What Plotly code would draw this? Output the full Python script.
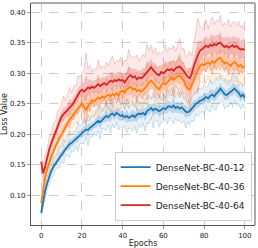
import plotly.graph_objects as go

epochs = list(range(101))

blue_mean = [0.071,0.092,0.108,0.120,0.131,0.140,0.147,0.152,0.158,0.163,
0.168,0.172,0.176,0.180,0.184,0.186,0.189,0.192,0.196,0.199,
0.201,0.205,0.208,0.207,0.211,0.213,0.216,0.219,0.222,0.220,
0.224,0.227,0.230,0.228,0.232,0.234,0.231,0.235,0.233,0.230,
0.231,0.228,0.230,0.227,0.229,0.231,0.228,0.232,0.234,0.233,
0.235,0.232,0.238,0.241,0.243,0.239,0.242,0.240,0.238,0.240,
0.243,0.241,0.245,0.246,0.244,0.247,0.243,0.245,0.242,0.244,
0.240,0.237,0.236,0.238,0.242,0.246,0.250,0.252,0.255,0.256,
0.258,0.261,0.259,0.263,0.265,0.262,0.267,0.270,0.275,0.271,
0.266,0.264,0.267,0.270,0.273,0.275,0.271,0.268,0.262,0.265,0.260]

orange_mean = [0.087,0.110,0.130,0.143,0.155,0.163,0.172,0.180,0.187,0.194,
0.199,0.206,0.212,0.218,0.224,0.229,0.233,0.238,0.242,0.246,
0.251,0.245,0.240,0.246,0.252,0.256,0.254,0.257,0.260,0.258,
0.262,0.260,0.263,0.265,0.262,0.266,0.264,0.267,0.263,0.270,
0.272,0.268,0.274,0.276,0.278,0.273,0.275,0.271,0.273,0.270,
0.272,0.276,0.281,0.285,0.288,0.283,0.280,0.276,0.274,0.280,
0.284,0.282,0.286,0.290,0.293,0.289,0.292,0.295,0.296,0.292,
0.288,0.280,0.275,0.273,0.282,0.292,0.298,0.305,0.312,0.315,
0.313,0.316,0.318,0.315,0.320,0.317,0.321,0.324,0.325,0.320,
0.316,0.318,0.315,0.312,0.316,0.319,0.315,0.311,0.314,0.309,0.311]

red_mean = [0.155,0.136,0.148,0.163,0.176,0.186,0.195,0.203,0.212,0.222,
0.229,0.233,0.236,0.240,0.244,0.247,0.252,0.258,0.264,0.270,
0.273,0.270,0.273,0.277,0.275,0.278,0.276,0.279,0.282,0.279,
0.281,0.284,0.281,0.285,0.288,0.286,0.289,0.287,0.290,0.288,
0.289,0.285,0.290,0.295,0.297,0.293,0.295,0.290,0.293,0.292,
0.294,0.298,0.302,0.306,0.310,0.305,0.301,0.298,0.297,0.302,
0.300,0.303,0.306,0.305,0.307,0.304,0.308,0.310,0.311,0.308,
0.303,0.297,0.294,0.292,0.300,0.312,0.322,0.330,0.337,0.340,
0.342,0.345,0.343,0.347,0.345,0.348,0.346,0.349,0.350,0.346,
0.343,0.345,0.342,0.344,0.346,0.343,0.345,0.341,0.339,0.340,0.338]

blue_spread = [0.006,0.010,0.012,0.009,0.014,0.011,0.016,0.010,0.013,0.018,
0.012,0.020,0.011,0.015,0.022,0.013,0.017,0.012,0.024,0.014,
0.016,0.021,0.012,0.026,0.015,0.018,0.013,0.022,0.016,0.028,
0.014,0.019,0.024,0.013,0.030,0.017,0.021,0.015,0.026,0.018,
0.022,0.014,0.028,0.016,0.020,0.025,0.015,0.031,0.018,0.022,
0.016,0.027,0.019,0.024,0.014,0.029,0.020,0.017,0.026,0.019,
0.023,0.016,0.028,0.018,0.021,0.030,0.017,0.024,0.019,0.026,
0.018,0.027,0.015,0.022,0.019,0.025,0.016,0.023,0.020,0.018,
0.024,0.015,0.021,0.027,0.017,0.022,0.026,0.018,0.023,0.016,
0.025,0.019,0.022,0.017,0.028,0.020,0.024,0.018,0.021,0.016,0.019]

orange_spread = [0.008,0.012,0.015,0.011,0.017,0.013,0.019,0.014,0.021,0.016,
0.018,0.024,0.015,0.020,0.027,0.017,0.022,0.016,0.025,0.019,
0.021,0.028,0.018,0.024,0.030,0.019,0.026,0.020,0.032,0.022,
0.025,0.018,0.029,0.021,0.026,0.033,0.020,0.027,0.022,0.030,
0.019,0.028,0.024,0.034,0.021,0.027,0.023,0.031,0.020,0.026,
0.029,0.022,0.035,0.024,0.028,0.021,0.032,0.025,0.030,0.023,
0.027,0.034,0.022,0.029,0.025,0.033,0.021,0.028,0.036,0.024,
0.030,0.023,0.027,0.035,0.022,0.029,0.026,0.038,0.024,0.031,
0.027,0.034,0.023,0.030,0.037,0.025,0.032,0.028,0.035,0.024,
0.031,0.027,0.036,0.025,0.030,0.033,0.026,0.034,0.028,0.031,0.026]

red_spread = [0.010,0.014,0.018,0.013,0.020,0.016,0.024,0.018,0.026,0.020,
0.022,0.030,0.019,0.025,0.033,0.021,0.028,0.020,0.031,0.024,
0.027,0.035,0.060,0.030,0.038,0.024,0.032,0.026,0.040,0.028,
0.031,0.024,0.037,0.027,0.034,0.042,0.026,0.035,0.029,0.038,
0.025,0.036,0.031,0.044,0.028,0.035,0.030,0.040,0.027,0.033,
0.037,0.029,0.045,0.031,0.036,0.028,0.041,0.032,0.038,0.030,
0.035,0.043,0.029,0.037,0.032,0.042,0.028,0.036,0.046,0.031,
0.038,0.030,0.035,0.044,0.029,0.037,0.050,0.060,0.040,0.034,
0.035,0.043,0.030,0.038,0.047,0.032,0.041,0.036,0.045,0.031,
0.040,0.034,0.046,0.032,0.038,0.042,0.033,0.044,0.036,0.039,0.033]

series = [
    ("DenseNet-BC-40-12", blue_mean, blue_spread, "#1f77b4", "31,119,180"),
    ("DenseNet-BC-40-36", orange_mean, orange_spread, "#ff7f0e", "255,127,14"),
    ("DenseNet-BC-40-64", red_mean, red_spread, "#d62728", "214,39,40"),
]

fig = go.Figure()
for name, m, s, col, rgb in series:
    hi = [a + b for a, b in zip(m, s)]
    lo = [a - b for a, b in zip(m, s)]
    hi2 = [a + 0.4 * b for a, b in zip(m, s)]
    lo2 = [a - 0.4 * b for a, b in zip(m, s)]
    fig.add_trace(go.Scatter(x=epochs, y=hi, mode="lines", line=dict(width=0.7, color=f"rgba({rgb},0.3)"),
                             showlegend=False, hoverinfo="skip"))
    fig.add_trace(go.Scatter(x=epochs, y=lo, mode="lines", line=dict(width=0.7, color=f"rgba({rgb},0.3)"),
                             fill="tonexty", fillcolor=f"rgba({rgb},0.10)", showlegend=False, hoverinfo="skip"))
    fig.add_trace(go.Scatter(x=epochs, y=hi2, mode="lines", line=dict(width=0),
                             showlegend=False, hoverinfo="skip"))
    fig.add_trace(go.Scatter(x=epochs, y=lo2, mode="lines", line=dict(width=0),
                             fill="tonexty", fillcolor=f"rgba({rgb},0.22)", showlegend=False, hoverinfo="skip"))

for name, m, s, col, rgb in series:
    fig.add_trace(go.Scatter(x=epochs, y=m, mode="lines", name=name, line=dict(width=1.8, color=col)))

fig.update_layout(
    width=258, height=248,
    margin=dict(l=31, r=3, t=3, b=23),
    plot_bgcolor="white", paper_bgcolor="white",
    font=dict(family="DejaVu Sans", size=7, color="#222"),
    legend=dict(x=0.985, xanchor="right", y=0.02, yanchor="bottom", traceorder="normal",
                bgcolor="rgba(255,255,255,0.9)", bordercolor="#cccccc", borderwidth=1,
                font=dict(size=9), itemwidth=30, tracegroupgap=0),
    shapes=[
        dict(type="line", xref="paper", yref="paper", x0=0, x1=1, y0=1, y1=1, line=dict(color="#aaaaaa", width=2)),
        dict(type="line", xref="paper", yref="paper", x0=1, x1=1, y0=0, y1=1, line=dict(color="#aaaaaa", width=2)),
    ],
)
fig.update_xaxes(range=[-5, 105], tickvals=[0, 20, 40, 60, 80, 100], showgrid=True, automargin=False,
                 gridcolor="#cccccc", griddash="dash", gridwidth=0.8, zeroline=False,
                 showline=True, linecolor="#555555", linewidth=1.2, ticks="outside", ticklen=3,
                 tickcolor="#999999", tickfont=dict(size=7),
                 title=dict(text="Epochs", font=dict(size=8), standoff=1))
fig.update_yaxes(range=[0.0513, 0.4152], tickvals=[0.10, 0.15, 0.20, 0.25, 0.30, 0.35, 0.40], automargin=False,
                 tickformat=".2f", showgrid=True, gridcolor="#cccccc", griddash="dash", gridwidth=0.8,
                 zeroline=False, showline=True, linecolor="#555555", linewidth=1.2, ticks="outside",
                 ticklen=3, tickcolor="#999999", tickfont=dict(size=7),
                 title=dict(text="Loss Value", font=dict(size=8), standoff=1))

fig.write_html("out.html", config={"displayModeBar": False},
               post_script="document.body.style.margin='0';document.body.style.overflow='hidden';")
